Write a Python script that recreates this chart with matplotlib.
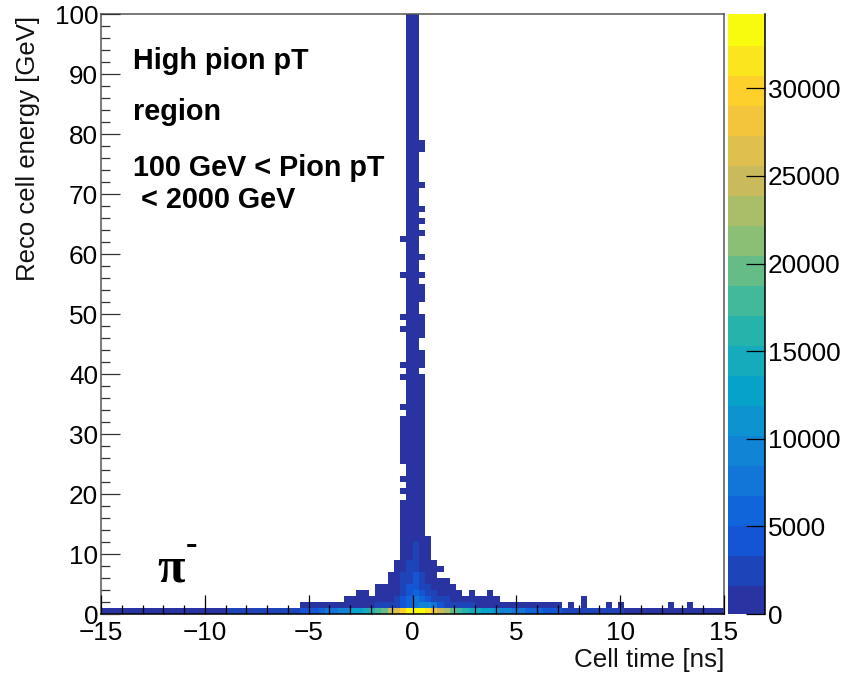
import numpy as np
import matplotlib
matplotlib.use('Agg')
import matplotlib.pyplot as plt
from matplotlib.colors import LinearSegmentedColormap, BoundaryNorm
from matplotlib.ticker import MultipleLocator

plt.rcParams['font.family'] = ['Liberation Sans', 'DejaVu Sans']

x_edges = np.linspace(-15, 15, 101)
y_edges = np.linspace(0, 100, 101)
z_max = 34240
n_levels = 20

# 0-1 GeV row, all 100 time bins
row_0 = [900, 800, 900, 1000, 900, 1000, 1100, 1000, 1100, 1200,
         1200, 1300, 1200, 1300, 1400, 1400, 1500, 1500, 1600, 1600,
         1800, 1900, 2000, 2100, 2200, 2300, 2400, 2600, 2800, 3000,
         3100, 3300, 3600, 4200, 5000, 6000, 7000, 8000, 9000, 10000,
         12000, 13000, 14000, 16000, 18000, 20000, 24000, 27000, 30000, 33000,
         34200, 34000, 32000, 28000, 25000, 23000, 20000, 18000, 16500, 15000,
         14000, 13000, 12000, 11000, 10000, 9000, 8000, 7000, 6500, 6000,
         5500, 5000, 4500, 4000, 3000, 2600, 2400, 2400, 2300, 2200,
         2100, 2000, 2000, 1900, 1400, 1300, 1300, 1200, 1200, 1100,
         1100, 1100, 1000, 1000, 900, 900, 800, 800, 700, 700]

# rows 1-12: first time bin and the counts from there
low_rows = {
    1: (32, [300, 400, 500, 500, 600, 600, 700, 800, 900, 1000, 1200, 1400, 2000, 2300, 2600, 3000,
             4000, 6000, 8500, 10000, 9000, 7000, 5000, 3000, 2600, 2200, 2000, 1800, 1500, 1400,
             1200, 1100, 1000, 900, 800, 700, 600, 500, 500, 400, 400, 300]),
    2: (39, [300, 400, 500, 600, 800, 1000, 1300, 1500, 2000, 3500, 5500, 7000, 5500, 4000, 2500,
             1800, 1800, 1500, 1300, 1100, 900, 700, 500, 400, 300]),
    3: (41, [300, 300, 0, 600, 800, 1000, 1500, 2500, 4500, 5500, 4000, 2500, 1800, 1200, 900, 600, 400, 0, 200]),
    4: (44, [400, 600, 800, 1100, 2200, 3800, 4600, 3000, 1800, 1000, 700, 400, 300]),
    5: (46, [600, 1000, 1800, 3000, 3800, 2200, 1200, 800, 500, 300]),
    6: (46, [500, 900, 1800, 2800, 3600, 1800, 1000, 500]),
    7: (47, [600, 1200, 2400, 3400, 1400, 800, 500, 200]),
    8: (47, [400, 1000, 1900, 3000, 1300, 700, 300]),
    9: (48, [800, 1500, 2400, 1000, 500]),
    10: (48, [600, 1300, 2000, 900, 400]),
    11: (48, [500, 1200, 1800, 800, 300]),
    12: (48, [400, 1000, 1300, 700, 300]),
}

# isolated cells in the right tail: (row, time bin, count)
tail_cells = [(1, 75, 300), (1, 77, 300), (2, 77, 200), (1, 81, 300), (3, 62, 200),
              (1, 83, 300), (1, 91, 200), (1, 94, 200)]

# rows above 13 GeV, the spike is mostly two bins wide
spike_bins = [49, 50]
spike_count = 400
side_count = 150
left_side_rows = [13, 14, 15, 16, 17, 18, 20, 22, 25, 26, 27, 28, 29, 30, 31, 32,
                  34, 39, 41, 47, 49, 56, 62]
right_side_rows = list(range(13, 40)) + [41, 42, 43, 46, 47, 48, 49, 52, 53, 54,
                                         56, 59, 63, 65, 67, 71, 77, 78]

# ROOT kBird palette, first stop pulled to the bluer shade of the picture
bird_r = [0.1600, 0.0592, 0.0780, 0.0232, 0.1802, 0.5301, 0.8186, 0.9956, 0.9764]
bird_g = [0.2000, 0.3599, 0.5041, 0.6419, 0.7178, 0.7492, 0.7328, 0.7862, 0.9832]
bird_b = [0.6300, 0.8684, 0.8385, 0.7914, 0.6425, 0.4662, 0.3499, 0.1968, 0.0539]

counts = np.zeros((100, 100))
counts[0, :] = row_0
for row, (first, vals) in low_rows.items():
    counts[row, first:first + len(vals)] = vals
for row, col, val in tail_cells:
    counts[row, col] = val
counts[13:, spike_bins] = spike_count
counts[left_side_rows, 48] = side_count
counts[right_side_rows, 51] = side_count
counts = np.ma.masked_equal(counts, 0)

cmap = LinearSegmentedColormap.from_list('bird', list(zip(bird_r, bird_g, bird_b)), N=n_levels)
norm = BoundaryNorm(np.linspace(0, z_max, n_levels + 1), n_levels)

W, H = 854, 675
fig = plt.figure(figsize=(W / 100, H / 100), dpi=100)
ax = fig.add_axes([101 / W, 1 - 614 / H, 623 / W, 600 / H])
cax = fig.add_axes([728 / W, 1 - 614 / H, 37 / W, 600 / H])

mesh = ax.pcolormesh(x_edges, y_edges, counts, cmap=cmap, norm=norm, linewidth=0, rasterized=True)
ax.set_xlim(-15, 15)
ax.set_ylim(0, 100)
ax.set_axisbelow(False)
ax.xaxis.set_major_locator(MultipleLocator(5))
ax.xaxis.set_minor_locator(MultipleLocator(1))
ax.yaxis.set_major_locator(MultipleLocator(10))
ax.yaxis.set_minor_locator(MultipleLocator(2))
ax.tick_params(which='major', direction='in', length=13.5, width=0.9, labelsize=18.8, color='black')
ax.tick_params(which='minor', direction='in', length=6.5, width=0.9, color='black')
ax.tick_params(axis='x', which='major', pad=5)
ax.tick_params(axis='y', which='major', color='#333333', pad=2)
ax.tick_params(axis='y', which='minor', color='#333333')
for side in ['top', 'right', 'left']:
    ax.spines[side].set_color('#555555')
    ax.spines[side].set_linewidth(1.1)
ax.spines['bottom'].set_linewidth(1.1)

fig.text(724 / W, 1 - 660 / H, 'Cell time [ns]', fontsize=18.7, ha='right', va='center', color='#111111')
fig.text(28 / W, 1 - 148 / H, 'Reco cell energy [GeV]', fontsize=18.5, rotation=90,
         ha='center', va='center', color='#111111')

for txt, py in [('High pion pT', 61), ('region', 112), ('100 GeV < Pion pT', 168), (' < 2000 GeV', 200)]:
    fig.text(133 / W, 1 - py / H, txt, fontsize=20.7, fontweight='bold', ha='left', va='center')

fig.text(157 / W, 1 - 581 / H, 'π', fontsize=36, family='Liberation Serif', fontweight='bold',
         ha='left', va='baseline')
fig.text(186 / W, 1 - 554 / H, '-', fontsize=25, family='Liberation Serif', fontweight='bold',
         ha='left', va='baseline')

cbar = fig.colorbar(mesh, cax=cax, spacing='proportional', ticks=[0, 5000, 10000, 15000, 20000, 25000, 30000])
cbar.minorticks_off()
cbar.outline.set_visible(False)
cbar.solids.set_edgecolor('face')
cax.tick_params(axis='y', direction='in', length=13.5, width=0.9, labelsize=18.8, pad=2, color='black')
cax.plot([1, 1], [0, 1], color='black', lw=1.1, transform=cax.transAxes, clip_on=False)

fig.savefig('out.png', dpi=100)
